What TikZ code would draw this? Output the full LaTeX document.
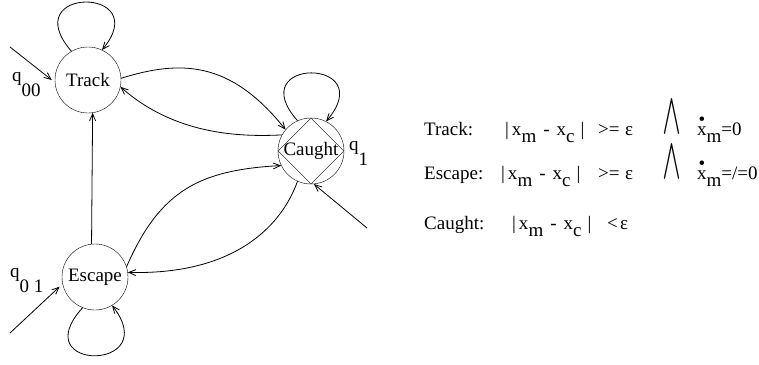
\documentclass[tikz,border=0pt]{standalone}
\usepackage{amsmath}
\usepackage{fontspec}
\usepackage{graphicx}
\setmainfont{Liberation Serif}
\usetikzlibrary{arrows.meta, shapes.geometric}
\newcommand{\lo}[1]{\raisebox{-7pt}{#1}}
\newcommand{\qlo}[1]{\raisebox{-15pt}{#1}}
\newcommand{\xdot}{\ooalign{x\cr\hidewidth\raisebox{10pt}{\textbullet}\hidewidth\cr}}
\newcommand{\absdiff}{|\hspace{3pt}x\lo{m}\hspace{7pt}-\hspace{7pt}x\lo{c}\hspace{6pt}|}
\newcommand{\bigand}{\resizebox{17pt}{27pt}{$\displaystyle\bigwedge$}}

\begin{document}
\begin{tikzpicture}[
		x=1pt, y=-1pt,
		>={Straight Barb[length=7pt,width=6pt]},
		every node/.style={font=\fontsize{19}{23}\selectfont},
		state/.style={draw, circle, minimum size=66pt, inner sep=0pt},
		txt/.style={anchor=base west, inner sep=0pt},
		trans/.style={->, line width=0.8pt},
	]
	\useasboundingbox (0,0) rectangle (759,364);

	% states
	\node[state] (track) at (88,80) {Track};
	\node[state] (caught) at (311,151) {Caught};
	\node[draw, diamond, aspect=1, minimum size=66pt, inner sep=0pt] (caughtd) at (caught.center) {};
	\node[state] (escape) at (95,277) {Escape};

	\node[txt] (q00) at (12,81) {q\qlo{00}};
	\node[txt] (q1) at (349,150) {q\qlo{1}};
	\node[txt] (q01) at (10,277) {q\qlo{0 1}};

	% initial arrows
	\coordinate (q00src) at (10,47);
	\coordinate (q01src) at (10,333);
	\coordinate (q1src) at (367,228);
	\draw[trans] (q00src) -- ([xshift=-3pt]track.west);
	\draw[trans, shorten >=4pt] (q01src) -- (escape.192);
	\draw[trans] (q1src) -- (caught.-85);

	% transitions
	\draw[trans] (track.3) .. controls (180,60) and (230,60) .. (caught.140);
	\draw[trans] (caught.151) .. controls (240,137) and (175,135) .. (track.-12);
	\draw[trans] (escape.18) .. controls (160,190) and (200,170) .. (caught.206);
	\draw[trans] (caught.246) .. controls (280,230) and (230,275) .. (escape.8);
	\draw[trans] (escape.96) -- (track.-82);

	% self loops
	\draw[trans] (track.120) .. controls (15,-14) and (155,-14) .. (track.65);
	\draw[trans] (caught.114) .. controls (241,57) and (381,57) .. (caught.63);
	\draw[trans] (escape.-112) .. controls (24,372) and (164,372) .. (escape.-59);

	% conditions
	\node[txt] (trackc) at (424,135) {Track:};
	\node[txt] (trackd) at (505,135) {\absdiff};
	\node[txt] (trackge) at (598,135) {>=};
	\node[txt] (trackeps) at (625,135) {ε};
	\node[anchor=south west, inner sep=0pt] (trackand) at (663,137) {\bigand};
	\node[txt] (trackv) at (697,135) {\xdot\lo{m}=0};

	\node[txt] (escc) at (424,179) {Escape:};
	\node[txt] (escd) at (501,179) {\absdiff};
	\node[txt] (escge) at (598,179) {>=};
	\node[txt] (esceps) at (625,179) {ε};
	\node[anchor=south west, inner sep=0pt] (escand) at (663,182) {\bigand};
	\node[txt] (escv) at (697,179) {\xdot\lo{m}=/=0};

	\node[txt] (caughtc) at (424,229) {Caught:};
	\node[txt] (caughtd2) at (512,229) {\absdiff};
	\node[txt] (caughtlt) at (607,229) {<};
	\node[txt] (caughteps) at (620,229) {ε};
\end{tikzpicture}
\end{document}
